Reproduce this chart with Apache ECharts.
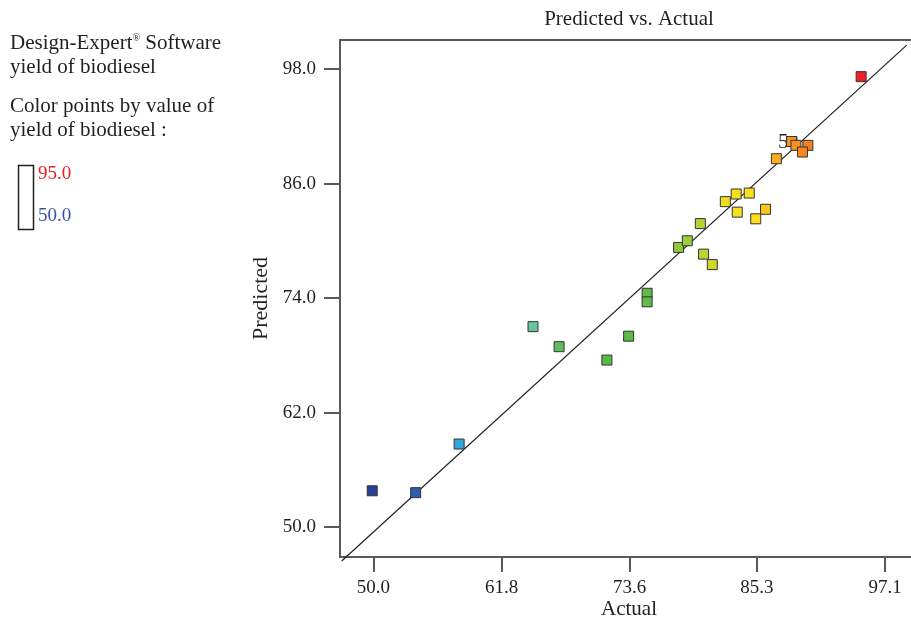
<!DOCTYPE html>
<html>
<head>
<meta charset="utf-8">
<script src="https://cdn.jsdelivr.net/npm/echarts@6/dist/echarts.min.js"></script>
<style>
  html, body { margin: 0; padding: 0; background: #ffffff; overflow: hidden; }
  #chart { width: 911px; height: 624px; }
</style>
</head>
<body>
<div id="chart"></div>
<script>
// Actual values (x)
var actualValues = [49.9, 53.9, 57.9, 64.7, 67.1, 71.5, 73.5, 75.2, 75.2, 78.1,
                    78.9, 80.1, 80.4, 81.2, 82.4, 83.4, 83.5, 84.6, 85.2, 86.1,
                    87.1, 88.5, 88.5, 88.5, 88.5, 88.5, 88.9, 90.0, 89.5, 94.9];
// Predicted values (y)
var predictedValues = [53.8, 53.6, 58.7, 71.0, 68.9, 67.5, 70.0, 74.5, 73.6, 79.3,
                       80.0, 81.8, 78.6, 77.5, 84.1, 84.9, 83.0, 85.0, 82.3, 83.3,
                       88.6, 90.4, 90.4, 90.4, 90.4, 90.4, 90.0, 90.0, 89.3, 97.2];
// Tick labels
var xTickValues = [50.0, 61.8, 73.6, 85.3, 97.1];
var yTickValues = [50.0, 62.0, 74.0, 86.0, 98.0];
// Reference (predicted = actual) line endpoints as drawn
var refLineX = [47.09, 99.1];
var refLineY = [46.44, 100.5];
// Colour scale range
var colorRange = [50.0, 95.0];
var textLines = ['Design-Expert', 'yield of biodiesel', 'Color points by value of', 'yield of biodiesel :'];

var points = actualValues.map(function (a, i) { return [a, predictedValues[i]]; });
var refLine = refLineX.map(function (x, i) { return [x, refLineY[i]]; });

var FONT = '"Liberation Serif", "DejaVu Serif", serif';
var TXT = '#231F20';
var AX = '#58595B';

var chart = echarts.init(document.getElementById('chart'), null, { renderer: 'canvas' });
chart.setOption({
  backgroundColor: '#ffffff',
  animation: false,
  textStyle: { fontFamily: FONT, color: TXT },
  grid: { left: 340, right: 0, top: 40, bottom: 67, containLabel: false },
  visualMap: {
    show: false,
    type: 'continuous',
    dimension: 0,
    seriesIndex: 0,
    min: colorRange[0], max: colorRange[1],
    inRange: {
      color: ['#263F98', '#2A4FA5', '#2E66B2', '#33A3DD', '#40B5DF', '#5BBFB0',
              '#6CC59B', '#5FBA4F', '#5BB946', '#5BB946', '#5DB947', '#85C440',
              '#B2D235', '#EEE01F', '#FFE01A', '#F9A51B', '#F57E20', '#F15322', '#ED1C24']
    }
  },
  xAxis: [{
    type: 'value',
    min: 46.935, max: 99.49,
    splitLine: { show: false },
    axisLine: { show: true, onZero: false, lineStyle: { color: AX, width: 2 } },
    axisTick: { show: true, inside: false, length: 15, customValues: xTickValues, lineStyle: { color: AX, width: 2 } },
    axisLabel: { customValues: xTickValues, margin: 22, fontFamily: FONT, fontSize: 19, color: TXT,
                 formatter: function (v) { return v.toFixed(1); } }
  }, {
    type: 'value', position: 'top',
    min: 46.935, max: 99.49,
    splitLine: { show: false },
    axisLine: { show: true, onZero: false, lineStyle: { color: AX, width: 2 } },
    axisTick: { show: false }, axisLabel: { show: false }
  }],
  yAxis: {
    type: 'value',
    min: 46.86, max: 101.04,
    name: 'Predicted', nameLocation: 'middle', nameGap: 65, nameRotate: 90,
    nameTextStyle: { fontFamily: FONT, fontSize: 22, color: TXT },
    splitLine: { show: false },
    axisLine: { show: true, onZero: false, lineStyle: { color: AX, width: 2 } },
    axisTick: { show: true, inside: false, length: 16, customValues: yTickValues, lineStyle: { color: AX, width: 2 } },
    axisLabel: { customValues: yTickValues, margin: 24, fontFamily: FONT, fontSize: 19, color: TXT,
                 formatter: function (v) { return v.toFixed(1); } }
  },
  series: [{
    type: 'scatter',
    data: points,
    symbol: 'rect',
    symbolSize: 10,
    z: 3,
    itemStyle: { borderColor: '#333333', borderWidth: 1, opacity: 1 },
    label: { show: false }
  }, {
    type: 'line',
    data: refLine,
    symbol: 'none',
    clip: false,
    z: 2,
    lineStyle: { color: '#231F20', width: 1.2 }
  }, {
    type: 'scatter',
    data: [points[21]],
    symbolSize: 0,
    itemStyle: { color: '#231F20' },
    silent: true,
    z: 1,
    label: { show: true, position: 'left', distance: 3, offset: [0, 1], formatter: '5', fontFamily: FONT, fontSize: 21, color: '#231F20', opacity: 1 }
  }],
  graphic: [
    { type: 'text', x: 629, y: 9, style: { text: 'Predicted vs. Actual', textAlign: 'center', fontFamily: FONT, fontSize: 21, fill: TXT } },
    { type: 'text', x: 629, y: 599, style: { text: 'Actual', textAlign: 'center', fontFamily: FONT, fontSize: 21, fill: TXT } },
    { type: 'text', left: 10, top: 33, style: { text: '{a|' + textLines[0] + '}{s|®}{a| Software}',
      rich: { a: { fontFamily: FONT, fontSize: 21, fill: TXT, verticalAlign: 'bottom' },
              s: { fontFamily: FONT, fontSize: 10, fill: TXT, verticalAlign: 'top' } } } },
    { type: 'text', left: 10, top: 57, style: { text: textLines[1], fontFamily: FONT, fontSize: 21, fill: TXT } },
    { type: 'text', left: 10, top: 96, style: { text: textLines[2], fontFamily: FONT, fontSize: 21, fill: TXT } },
    { type: 'text', left: 10, top: 120, style: { text: textLines[3], fontFamily: FONT, fontSize: 21, fill: TXT } },
    { type: 'rect', left: 16, top: 163, shape: { width: 15, height: 64 }, style: { fill: 'none', stroke: '#231F20', lineWidth: 1.5 } },
    { type: 'text', left: 38, top: 165, style: { text: colorRange[1].toFixed(1), fontFamily: FONT, fontSize: 19, fill: '#ED1C24' } },
    { type: 'text', left: 38, top: 207, style: { text: colorRange[0].toFixed(1), fontFamily: FONT, fontSize: 19, fill: '#3654A5' } }
  ]
});
</script>
</body>
</html>
